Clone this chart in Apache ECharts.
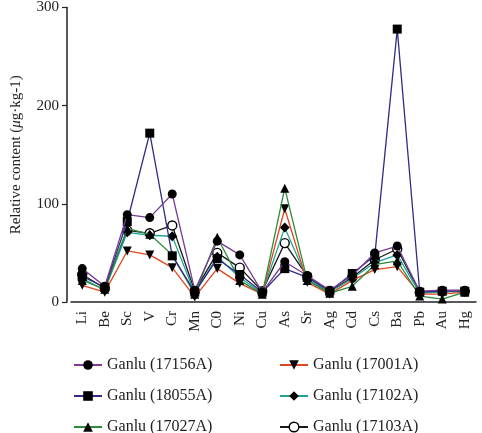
<!DOCTYPE html>
<html><head><meta charset="utf-8">
<script src="https://cdn.jsdelivr.net/npm/echarts@6/dist/echarts.min.js"></script>
<style>html,body{margin:0;padding:0;background:#fff}#c{width:482px;height:433px}</style>
</head><body><div id="c"></div>
<script>
var categories = ['Li','Be','Sc','V','Cr','Mn','C0','Ni','Cu','As','Sr','Ag','Cd','Cs','Ba','Pb','Au','Hg'];
var yTicks = [0, 100, 200, 300];
var s17156A = [34, 16, 89, 86, 110, 12, 62, 48, 10, 41, 27, 12, 27, 50, 57, 11, 12, 12];
var s18055A = [26, 15, 82, 172, 47, 10, 44, 28, 10, 34, 25, 11, 29, 47, 278, 10, 11, 11];
var s17027A = [22, 13, 75, 69, 48, 8, 66, 22, 8, 116, 22, 9, 16, 38, 42, 6, 3, 10];
var s17001A = [17, 10, 52, 48, 35, 5, 34, 19, 8, 95, 20, 8, 22, 33, 36, 8, 8, 10];
var s17102A = [24, 12, 71, 68, 67, 9, 46, 25, 9, 76, 23, 10, 24, 40, 48, 9, 10, 11];
var s17103A = [28, 14, 73, 70, 78, 11, 50, 35, 11, 60, 26, 11, 25, 43, 54, 10, 11, 11];
var names = ['Ganlu (17156A)','Ganlu (18055A)','Ganlu (17027A)','Ganlu (17001A)','Ganlu (17102A)','Ganlu (17103A)'];
var colors = ['#7a3c96','#2e2c84','#2c8a3c','#e2461e','#22a39a','#1a1a1a'];
var symbols = ['circle','rect','triangle','path://M0,0 L10,0 L5,10 Z','diamond','circle'];
var datas = [s17156A, s18055A, s17027A, s17001A, s17102A, s17103A];
var font = 'Liberation Serif';

function markStyle(i) {
  return i === 5 ? {color: '#fff', borderColor: '#000', borderWidth: 1.4}
                 : {color: '#000', borderColor: '#000', borderWidth: 0};
}
var series = names.map(function(n, i){
  return {
    name: n, type: 'line', data: datas[i], z: 10 - i,
    symbol: symbols[i], symbolSize: i === 4 ? 10 : 9,
    lineStyle: {color: colors[i], width: 1.3},
    itemStyle: markStyle(i),
    color: colors[i],
    emphasis: {disabled: true}
  };
});

function legendAt(left, idx) {
  return {
    orient: 'vertical', left: left, top: 351, height: 100,
    itemWidth: 28, itemHeight: 12, itemGap: 13,
    textStyle: {fontFamily: font, fontSize: 16, color: '#222', lineHeight: 18},
    data: idx.map(function(i){
      return {name: names[i], itemStyle: markStyle(i)};
    })
  };
}
var chart = echarts.init(document.getElementById('c'), null, {renderer: 'canvas'});
chart.setOption({
  animation: false,
  backgroundColor: '#fff',
  grid: {left: 71, right: 6, top: 6, bottom: 131, containLabel: false},
  legend: [
    legendAt(68, [0, 1, 2]),
    legendAt(274, [3, 4, 5])
  ],
  xAxis: {
    type: 'category', data: categories, boundaryGap: true,
    axisLine: {lineStyle: {color: '#222', width: 1.5}},
    axisTick: {alignWithLabel: true, length: 5, lineStyle: {color: '#222', width: 1.2}},
    axisLabel: {rotate: 90, fontFamily: font, fontSize: 15, color: '#222', margin: 9}
  },
  yAxis: {
    type: 'value', min: yTicks[0], max: yTicks[yTicks.length-1], interval: 100, offset: 4,
    name: '{a|Relative content (}{i|μ}{a|g·kg-1)}',
    nameLocation: 'middle', nameGap: 43, nameRotate: 90,
    nameTextStyle: {rich: {a: {fontFamily: font, fontSize: 15, color: '#222'}, i: {fontFamily: font, fontSize: 15, fontStyle: 'italic', color: '#222'}}},
    axisLine: {show: true, lineStyle: {color: '#222', width: 1.5}},
    axisTick: {show: true, length: 5, lineStyle: {color: '#222', width: 1.2}},
    axisLabel: {fontFamily: font, fontSize: 15, color: '#222', margin: 8},
    splitLine: {show: false}
  },
  series: series
});
</script></body></html>
